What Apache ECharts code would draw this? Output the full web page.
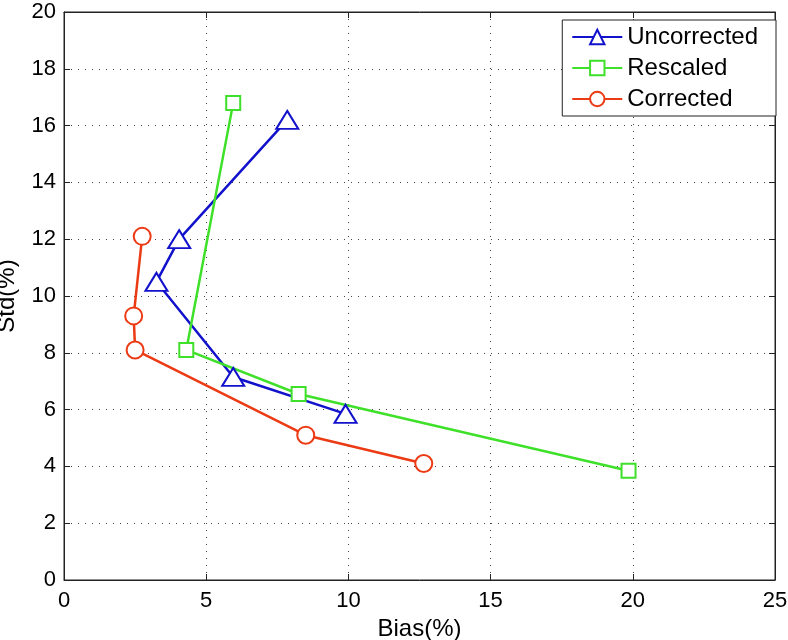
<!DOCTYPE html>
<html>
<head>
<meta charset="utf-8">
<script src="https://cdn.jsdelivr.net/npm/echarts@6/dist/echarts.min.js"></script>
<style>
  html, body { margin: 0; padding: 0; background: #fff; }
  #main { width: 788px; height: 640px; }
</style>
</head>
<body>
<div id="main"></div>
<script>
// data
const uncorrected = [[7.85, 16.2], [4.05, 12.0], [3.25, 10.5], [5.95, 7.15], [9.9, 5.85]]
const rescaled = [[5.95, 16.8], [4.3, 8.1], [8.25, 6.55], [19.85, 3.85]]
const corrected = [[2.75, 12.1], [2.45, 9.3], [2.5, 8.1], [8.5, 5.1], [12.65, 4.1]]
const seriesNames = ['Uncorrected', 'Rescaled', 'Corrected']

const font = 'Liberation Sans, Arial, sans-serif'
const gridLine = { show: true, lineStyle: { color: '#444', type: [1, 6], width: 1 } }
const tick = { inside: true, length: 6, lineStyle: { color: '#222' } }
const axisLine = { show: true, onZero: false, lineStyle: { color: '#222', width: 1 } }

let chart = echarts.init(document.getElementById('main'))
chart.setOption({
  animation: false,
  backgroundColor: '#fff',
  grid: {
    left: 64, right: 13, top: 12, bottom: 60,
    outerBoundsMode: 'none',
    containLabel: false,
    show: true, borderColor: '#222', borderWidth: 1
  },
  legend: {
    right: 12,
    top: 20,
    orient: 'vertical',
    backgroundColor: '#fff',
    borderColor: '#222',
    borderWidth: 1,
    borderRadius: 0,
    padding: [5, 18, 5, 9],
    itemWidth: 50,
    itemHeight: 18,
    itemGap: 7,
    textStyle: { fontFamily: font, fontSize: 24, color: '#000' },
    data: seriesNames
  },
  xAxis: [{
    type: 'value',
    min: 0,
    max: 25,
    interval: 5,
    name: 'Bias(%)',
    nameLocation: 'middle',
    nameGap: 36,
    nameTextStyle: { fontFamily: font, fontSize: 24, color: '#000' },
    axisLabel: { fontFamily: font, fontSize: 22, color: '#000', margin: 10 },
    axisLine,
    axisTick: tick,
    splitLine: gridLine
  }, {
    type: 'value',
    position: 'top',
    min: 0,
    max: 25,
    interval: 5,
    axisLabel: { show: false },
    axisLine,
    axisTick: tick,
    splitLine: { show: false }
  }],
  yAxis: [{
    type: 'value',
    min: 0,
    max: 20,
    interval: 2,
    name: 'Std(%)',
    nameLocation: 'middle',
    nameGap: 45,
    nameTextStyle: { fontFamily: font, fontSize: 24, color: '#000' },
    axisLabel: { fontFamily: font, fontSize: 22, color: '#000', margin: 8 },
    axisLine,
    axisTick: tick,
    splitLine: gridLine
  }, {
    type: 'value',
    position: 'right',
    min: 0,
    max: 20,
    interval: 2,
    axisLabel: { show: false },
    axisLine,
    axisTick: tick,
    splitLine: { show: false }
  }],
  series: [{
    name: seriesNames[0],
    type: 'line',
    data: uncorrected,
    symbol: 'emptyTriangle',
    symbolSize: [22, 18],
    color: '#1212cc',
    lineStyle: { width: 2.5 },
    itemStyle: { borderWidth: 2.5 }
  }, {
    name: seriesNames[1],
    type: 'line',
    data: rescaled,
    symbol: 'emptyRect',
    symbolSize: 14,
    color: '#3fe02a',
    lineStyle: { width: 2.5 },
    itemStyle: { borderWidth: 2.5 }
  }, {
    name: seriesNames[2],
    type: 'line',
    data: corrected,
    symbol: 'emptyCircle',
    symbolSize: 17,
    color: '#ec3a14',
    lineStyle: { width: 2.5 },
    itemStyle: { borderWidth: 2.5 }
  }]
})
</script>
</body>
</html>
